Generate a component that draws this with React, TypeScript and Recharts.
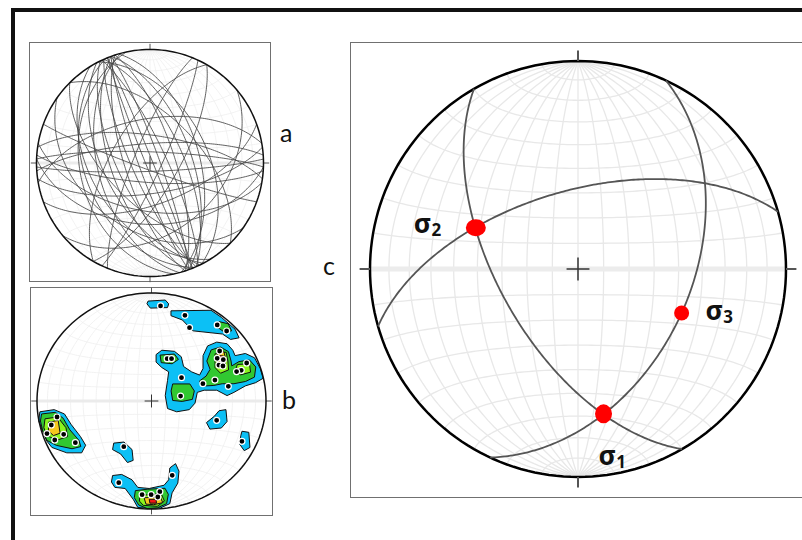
import React from 'react';
import { ScatterChart, Scatter, XAxis, YAxis } from 'recharts';

// ---------- Panel a: great circles (dip direction / dip, degrees) ----------
const planesADipDir = [68, 70, 65, 72, 66, 70, 74, 63, 248, 250, 246, 252, 244, 250, 242, 255, 238, 247, 258, 2, 356, 8, 350, 178, 184, 172, 190, 182, 115, 292, 300, 120, 215, 140, 225, 45, 200, 160];
const planesADip = [88, 83, 78, 72, 66, 60, 54, 48, 87, 82, 77, 72, 67, 62, 57, 52, 47, 42, 38, 82, 76, 70, 58, 84, 76, 68, 55, 45, 82, 78, 62, 70, 40, 38, 60, 55, 85, 60];

// ---------- Panel b: poles (net coordinates) ----------
const polesBX = [0.079, 0.292, 0.332, 0.574, 0.656, 0.137, 0.175, 0.262, 0.254, 0.595, 0.574, 0.627, 0.589, 0.624, 0.831, 0.784, 0.743, 0.554, 0.449, 0.671, 0.569, 0.79, -0.825, -0.875, -0.913, -0.767, -0.845, -0.665, -0.242, -0.286, 0.181, -0.082, -0.003, 0.073, 0.055];
const polesBY = [0.88, 0.793, 0.679, 0.704, 0.648, 0.392, 0.392, 0.216, 0.046, 0.463, 0.395, 0.383, 0.333, 0.324, 0.352, 0.284, 0.272, 0.194, 0.16, 0.136, -0.179, -0.373, -0.148, -0.222, -0.302, -0.309, -0.361, -0.386, -0.423, -0.756, -0.688, -0.867, -0.867, -0.84, -0.889];

// density contours (polygons in net coordinates), one list per level
const contourCyan = [
  [[-0.03, 0.925], [0.12, 0.935], [0.15, 0.9], [0.14, 0.865], [-0.01, 0.86], [-0.04, 0.9]],
  [[0.17, 0.835], [0.52, 0.84], [0.61, 0.775], [0.73, 0.665], [0.765, 0.585], [0.69, 0.57], [0.62, 0.62], [0.36, 0.65], [0.27, 0.75], [0.17, 0.79]],
  [[0.04, 0.43], [0.09, 0.47], [0.2, 0.46], [0.26, 0.41], [0.28, 0.32], [0.35, 0.27], [0.42, 0.24], [0.45, 0.3], [0.45, 0.42], [0.49, 0.51], [0.57, 0.545], [0.66, 0.53], [0.71, 0.47], [0.73, 0.42], [0.82, 0.44], [0.9, 0.4], [0.95, 0.3], [0.975, 0.21], [0.91, 0.17], [0.82, 0.14], [0.72, 0.08], [0.66, 0.05], [0.57, 0.1], [0.46, 0.1], [0.4, 0.08], [0.38, -0.02], [0.33, -0.08], [0.22, -0.1], [0.14, -0.07], [0.12, 0.05], [0.14, 0.19], [0.15, 0.27], [0.09, 0.31], [0.04, 0.36]],
  [[0.59, -0.09], [0.65, -0.08], [0.66, -0.19], [0.61, -0.25], [0.51, -0.26], [0.48, -0.2], [0.55, -0.14]],
  [[0.79, -0.28], [0.85, -0.29], [0.86, -0.43], [0.81, -0.46], [0.77, -0.4], [0.78, -0.32]],
  [[-0.975, -0.1], [-0.85, -0.08], [-0.76, -0.12], [-0.7, -0.22], [-0.62, -0.33], [-0.575, -0.41], [-0.61, -0.48], [-0.74, -0.48], [-0.87, -0.43], [-0.915, -0.37], [-0.95, -0.28], [-0.985, -0.185]],
  [[-0.33, -0.39], [-0.24, -0.38], [-0.17, -0.45], [-0.16, -0.55], [-0.21, -0.57], [-0.27, -0.49], [-0.34, -0.45]],
  [[-0.34, -0.69], [-0.26, -0.68], [-0.17, -0.73], [-0.12, -0.8], [-0.02, -0.81], [0.11, -0.78], [0.15, -0.73], [0.16, -0.62], [0.21, -0.58], [0.24, -0.65], [0.23, -0.76], [0.18, -0.85], [0.16, -0.95], [0.08, -0.99], [-0.02, -0.995], [-0.12, -0.985], [-0.16, -0.91], [-0.23, -0.81], [-0.32, -0.8], [-0.35, -0.75]],
];
const contourGreen = [
  [[0.59, 0.735], [0.67, 0.715], [0.7, 0.65], [0.64, 0.635], [0.58, 0.68]],
  [[0.075, 0.425], [0.2, 0.435], [0.235, 0.385], [0.18, 0.345], [0.085, 0.355]],
  [[0.185, 0.158], [0.335, 0.158], [0.374, 0.093], [0.357, 0.015], [0.268, -0.004], [0.185, 0.005], [0.171, 0.093]],
  [[0.483, 0.37], [0.521, 0.473], [0.603, 0.5], [0.672, 0.457], [0.695, 0.37], [0.701, 0.325], [0.764, 0.365], [0.856, 0.38], [0.911, 0.315], [0.899, 0.221], [0.822, 0.181], [0.72, 0.16], [0.618, 0.16], [0.545, 0.144], [0.443, 0.138], [0.419, 0.185], [0.477, 0.231], [0.512, 0.293]],
  [[-0.96, -0.12], [-0.84, -0.105], [-0.771, -0.16], [-0.713, -0.267], [-0.634, -0.364], [-0.617, -0.422], [-0.694, -0.442], [-0.83, -0.411], [-0.913, -0.365], [-0.95, -0.278], [-0.97, -0.185]],
  [[-0.141, -0.83], [-0.038, -0.817], [0.118, -0.808], [0.147, -0.864], [0.132, -0.951], [0.05, -0.99], [-0.038, -0.995], [-0.112, -0.963], [-0.15, -0.895]],
];
const contourLime = [
  [[0.555, 0.437], [0.652, 0.452], [0.667, 0.37], [0.673, 0.288], [0.603, 0.257], [0.555, 0.309]],
  [[0.75, 0.338], [0.856, 0.345], [0.865, 0.267], [0.778, 0.242], [0.73, 0.278]],
  [[-0.93, -0.165], [-0.82, -0.148], [-0.747, -0.247], [-0.733, -0.33], [-0.825, -0.362], [-0.915, -0.32], [-0.94, -0.247]],
  [[-0.1, -0.875], [0.084, -0.859], [0.113, -0.926], [0.05, -0.975], [-0.072, -0.966], [-0.106, -0.926]],
];
const contourYellow = [
  [[0.578, 0.452], [0.63, 0.462], [0.65, 0.386], [0.64, 0.31], [0.596, 0.32], [0.57, 0.386]],
  [[-0.9, -0.196], [-0.815, -0.18], [-0.798, -0.298], [-0.856, -0.32], [-0.9, -0.278]],
  [[-0.065, -0.896], [0.078, -0.89], [0.098, -0.941], [0.02, -0.96], [-0.048, -0.955]],
];
const contourRed = [
  [[0.596, 0.42], [0.629, 0.417], [0.629, 0.36], [0.601, 0.36]],
  [[-0.02, -0.91], [0.04, -0.91], [0.043, -0.946], [-0.014, -0.946]],
];

// ---------- Panel c: fault planes and principal stresses ----------
const faultDipDir = [240, 344, 115];
const faultDip = [59, 59, 45];
const sigmaNames = ['1', '2', '3'];
const sigmaTrend = [170, 292, 113];
const sigmaPlunge = [30, 46, 45];

// ---------- projection helpers (lower hemisphere, equal area) ----------
const D = Math.PI / 180;
type P = { x: number; y: number };
const projVec = (vx: number, vy: number, vz: number): P => {
  const k = 1 / Math.sqrt(1 + Math.max(0, vz));
  return { x: vx * k, y: vy * k };
};
const lineToNet = (trend: number, plunge: number): P => {
  const t = trend * D, p = plunge * D;
  return projVec(Math.cos(p) * Math.sin(t), Math.cos(p) * Math.cos(t), Math.sin(p));
};
const greatCircle = (dipDir: number, dip: number, steps = 120): P[] => {
  const st = (dipDir - 90) * D, dd = dipDir * D, dp = dip * D;
  const s = [Math.sin(st), Math.cos(st), 0];
  const d = [Math.sin(dd) * Math.cos(dp), Math.cos(dd) * Math.cos(dp), Math.sin(dp)];
  const pts: P[] = [];
  for (let i = 0; i <= steps; i++) {
    const t = (Math.PI * i) / steps, c = Math.cos(t), sn = Math.sin(t);
    pts.push(projVec(c * s[0] + sn * d[0], c * s[1] + sn * d[1], c * s[2] + sn * d[2]));
  }
  return pts;
};
const smallCircleNS = (beta: number, steps = 90): P[] => {
  const b = beta * D, pts: P[] = [];
  for (let i = 0; i <= steps; i++) {
    const f = (Math.PI * i) / steps;
    pts.push(projVec(Math.sin(b) * Math.cos(f), Math.cos(b), Math.sin(b) * Math.sin(f)));
  }
  return pts;
};
const primitivePts = (): P[] => {
  const pts: P[] = [];
  for (let i = 0; i <= 360; i += 2) pts.push({ x: Math.sin(i * D), y: Math.cos(i * D) });
  return pts;
};
const netSteps = [10, 20, 30, 40, 50, 60, 70, 80];

const noShape = () => null;

const pathSeries = (key: string, pts: P[], stroke: string, width: number, extra: any = {}, joint: any = 'linear') => (
  <Scatter
    key={key}
    data={pts}
    line={{ stroke, strokeWidth: width, fill: 'none', ...extra }}
    lineJointType={joint}
    shape={noShape}
    isAnimationActive={false}
    legendType="none"
  />
);

const netSeries = (prefix: string, color: string, w: number, bandColor: string, bandW: number) => {
  const out: any[] = [];
  netSteps.forEach((d) => {
    out.push(pathSeries(`${prefix}me${d}`, greatCircle(90, d), color, w));
    out.push(pathSeries(`${prefix}mw${d}`, greatCircle(270, d), color, w));
    out.push(pathSeries(`${prefix}sn${d}`, smallCircleNS(d), color, w));
    out.push(pathSeries(`${prefix}ss${d}`, smallCircleNS(180 - d), color, w));
  });
  out.push(pathSeries(`${prefix}ns`, greatCircle(90, 90), color, w));
  out.push(pathSeries(`${prefix}ew`, smallCircleNS(90), bandColor, bandW));
  return out;
};

// ticks at N, S, E, W outside the primitive and a centre cross
const tickSeries = (prefix: string, len: number, color: string, w: number, cross: number, crossColor: string, crossW: number) => [
  pathSeries(`${prefix}tn`, [{ x: 0, y: 1 }, { x: 0, y: 1 + len }], color, w),
  pathSeries(`${prefix}ts`, [{ x: 0, y: -1 }, { x: 0, y: -1 - len }], color, w),
  pathSeries(`${prefix}te`, [{ x: 1, y: 0 }, { x: 1 + len, y: 0 }], color, w),
  pathSeries(`${prefix}tw`, [{ x: -1, y: 0 }, { x: -1 - len, y: 0 }], color, w),
  pathSeries(`${prefix}ch`, [{ x: -cross, y: 0 }, { x: cross, y: 0 }], crossColor, crossW),
  pathSeries(`${prefix}cv`, [{ x: 0, y: -cross }, { x: 0, y: cross }], crossColor, crossW),
];

const axes = (kx: number, ky: number) => [
  <XAxis key="x" type="number" dataKey="x" domain={[-kx, kx]} hide allowDataOverflow />,
  <YAxis key="y" type="number" dataKey="y" domain={[-ky, ky]} hide allowDataOverflow />,
];

const M = { top: 0, right: 0, bottom: 0, left: 0 };

const toPts = (poly: number[][]): P[] => poly.map(([x, y]) => ({ x, y }));

const contourSeries = (prefix: string, polys: number[][][], fill: string) =>
  polys.map((poly, i) => pathSeries(`${prefix}${i}`, toPts(poly), '#111', 1, { fill }, 'linearClosed'));

const polesData = polesBX.map((x, i) => ({ x, y: polesBY[i] }));

const PoleDot = (props: any) => (
  <circle cx={props.cx} cy={props.cy} r={3} fill="#000" stroke="#fff" strokeWidth={1.2} />
);

const sigmaData = sigmaNames.map((n, i) => ({ ...lineToNet(sigmaTrend[i], sigmaPlunge[i]), name: n }));
const sigmaStyle: Record<string, { rx: number; ry: number; dx: number; dy: number }> = {
  '1': { rx: 8.5, ry: 9.5, dx: -5, dy: 51 },
  '2': { rx: 10, ry: 8.5, dx: -62, dy: 5 },
  '3': { rx: 7.5, ry: 7.5, dx: 24, dy: 7 },
};
const SigmaShape = (props: any) => {
  const n = props.payload?.name ?? '1';
  const s = sigmaStyle[n];
  return (
    <g>
      <ellipse cx={props.cx} cy={props.cy} rx={s.rx} ry={s.ry} fill="#ff0000" />
      <text x={props.cx + s.dx} y={props.cy + s.dy} fontFamily="'Noto Sans', 'DejaVu Sans', sans-serif" fontWeight={700} fill="#111">
        <tspan fontSize={27}>σ</tspan>
        <tspan fontSize={17} dy={3}>{n}</tspan>
      </text>
    </g>
  );
};

const abs = (l: number, t: number): React.CSSProperties => ({ position: 'absolute', left: l, top: t });

export default function App() {
  const planesA = planesADipDir.map((dd, i) => greatCircle(dd, planesADip[i]));
  const faults = faultDipDir.map((dd, i) => greatCircle(dd, faultDip[i], 200));
  const prim = primitivePts();
  return (
    <div style={{ position: 'absolute', left: 0, top: 0, width: 802, height: 540, overflow: 'hidden', background: '#fff' }}>
      {/* outer frame */}
      <div style={{ ...abs(11, 8), width: 900, height: 700, border: '4px solid #111', boxSizing: 'border-box' }} />
      {/* panel boxes */}
      <div style={{ ...abs(29, 42), width: 242, height: 240, border: '1.5px solid #707070', boxSizing: 'border-box' }} />
      <div style={{ ...abs(30, 287), width: 243, height: 229, border: '1.5px solid #707070', boxSizing: 'border-box' }} />
      <div style={{ ...abs(350, 42), width: 470, height: 456, border: '1.5px solid #707070', boxSizing: 'border-box' }} />

      {/* panel a */}
      <div style={abs(30, 43)}>
        <ScatterChart width={240} height={240} margin={M}>
          {axes(120 / 113.5, 120 / 113.5)}
          {netSeries('a', '#efefef', 0.8, '#ebebeb', 3)}
          {tickSeries('a', 0.05, '#555', 1, 0.06, '#333', 1)}
          {planesA.map((pts, i) => pathSeries(`ap${i}`, pts, '#444', 0.85))}
          {pathSeries('aprim', prim, '#111', 1.5)}
        </ScatterChart>
      </div>

      {/* panel b */}
      <div style={abs(30, 287)}>
        <ScatterChart width={243} height={228} margin={M}>
          {axes(121.5 / 114.5, 114 / 108)}
          {netSeries('b', '#efefef', 0.8, '#ebebeb', 3)}
          {tickSeries('b', 0.05, '#555', 1, 0.06, '#333', 1)}
          {contourSeries('cc', contourCyan, '#0cc0f5')}
          {contourSeries('cg', contourGreen, '#31c831')}
          {contourSeries('cl', contourLime, '#8cf51e')}
          {contourSeries('cy', contourYellow, '#f5c81e')}
          {contourSeries('cr', contourRed, '#f01414')}
          {pathSeries('bprim', prim, '#111', 1.5)}
          <Scatter data={polesData} shape={PoleDot} isAnimationActive={false} legendType="none" />
        </ScatterChart>
      </div>

      {/* panel c */}
      <div style={abs(350, 41)}>
        <ScatterChart width={456} height={456} margin={M}>
          {axes(228 / 208, 228 / 208)}
          {netSeries('c', '#e8e8e8', 1.3, '#ececec', 5)}
          {pathSeries('cprim', prim, '#000', 2.5)}
          {tickSeries('c', 0.05, '#555', 2, 0.055, '#333', 1.5)}
          {faults.map((pts, i) => pathSeries(`f${i}`, pts, '#555', 1.8))}
          <Scatter data={sigmaData} shape={SigmaShape} isAnimationActive={false} legendType="none" />
        </ScatterChart>
      </div>

      {/* panel letters */}
      <svg width={802} height={540} style={{ position: 'absolute', left: 0, top: 0, pointerEvents: 'none' }}>
        <text x={280} y={142} fontSize={25} fontFamily="Lato, 'Open Sans', sans-serif" fill="#111">a</text>
        <text x={282} y={409} fontSize={25} fontFamily="Lato, 'Open Sans', sans-serif" fill="#111">b</text>
        <text x={323} y={275} fontSize={25} fontFamily="Lato, 'Open Sans', sans-serif" fill="#111">c</text>
      </svg>
    </div>
  );
}
